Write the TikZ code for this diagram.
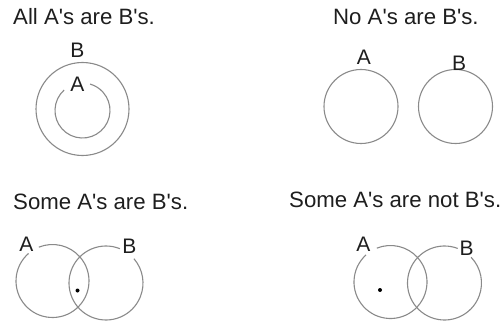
\documentclass[tikz,border=0pt]{standalone}
\usepackage{fontspec}
\setmainfont{Liberation Sans}
\definecolor{linegray}{HTML}{8A8A8A}
\definecolor{textdark}{HTML}{1E1E1E}
\newcommand{\apo}{\textquotesingle}
\tikzset{
  title/.style={anchor=base west, inner sep=0pt, text=textdark, font=\fontsize{22.2}{24}\selectfont},
  lbl/.style={anchor=base, inner sep=0pt, text=textdark, font=\fontsize{21}{22}\selectfont},
  ring/.style={draw=linegray, line width=1.1pt},
  spot/.style={fill=black}
}
\begin{document}
\begin{tikzpicture}[x=1pt,y=1pt]
\useasboundingbox (0,0) rectangle (504,322);
% titles
\node[title] (t1) at (13,297) {All A\apo s are B\apo s.};
\node[title] (t2) at (333,297) {No A\apo s are B\apo s.};
\node[title] (t3) at (13,113) {Some A\apo s are B\apo s.};
\node[title] (t4) at (289,114) {Some A\apo s are not B\apo s.};
% panel 1
\draw[ring] (82.5,213) circle[radius=46.5];
\draw[ring] ([shift={(132:27.5)}]82.5,211.5) arc[start angle=132,end angle=434,radius=27.5];
\node[lbl] (p1b) at (77.5,264) {B};
\node[lbl] (p1a) at (77.5,230) {A};
% panel 2
\draw[ring] (361,215.5) circle[radius=37];
\draw[ring] (455.5,215.5) circle[radius=37];
\node[lbl] (p2a) at (364,257) {A};
\node[lbl] (p2b) at (459,251) {B};
% panel 3
\draw[ring] ([shift={(131:36.5)}]52.5,41) arc[start angle=131,end angle=472,radius=36.5];
\draw[ring] ([shift={(68:37)}]106,39) arc[start angle=68,end angle=401,radius=37];
\fill[spot] (77.5,31.5) circle[radius=2];
\node[lbl] (p3a) at (26.5,71) {A};
\node[lbl] (p3b) at (129.5,69) {B};
% panel 4
\draw[ring] ([shift={(132:36.5)}]390.5,40) arc[start angle=132,end angle=472,radius=36.5];
\draw[ring] ([shift={(69:37)}]444.5,39) arc[start angle=69,end angle=404,radius=37];
\fill[spot] (380,32) circle[radius=2];
\node[lbl] (p4a) at (363.5,71) {A};
\node[lbl] (p4b) at (466.5,67) {B};
\end{tikzpicture}
\end{document}
